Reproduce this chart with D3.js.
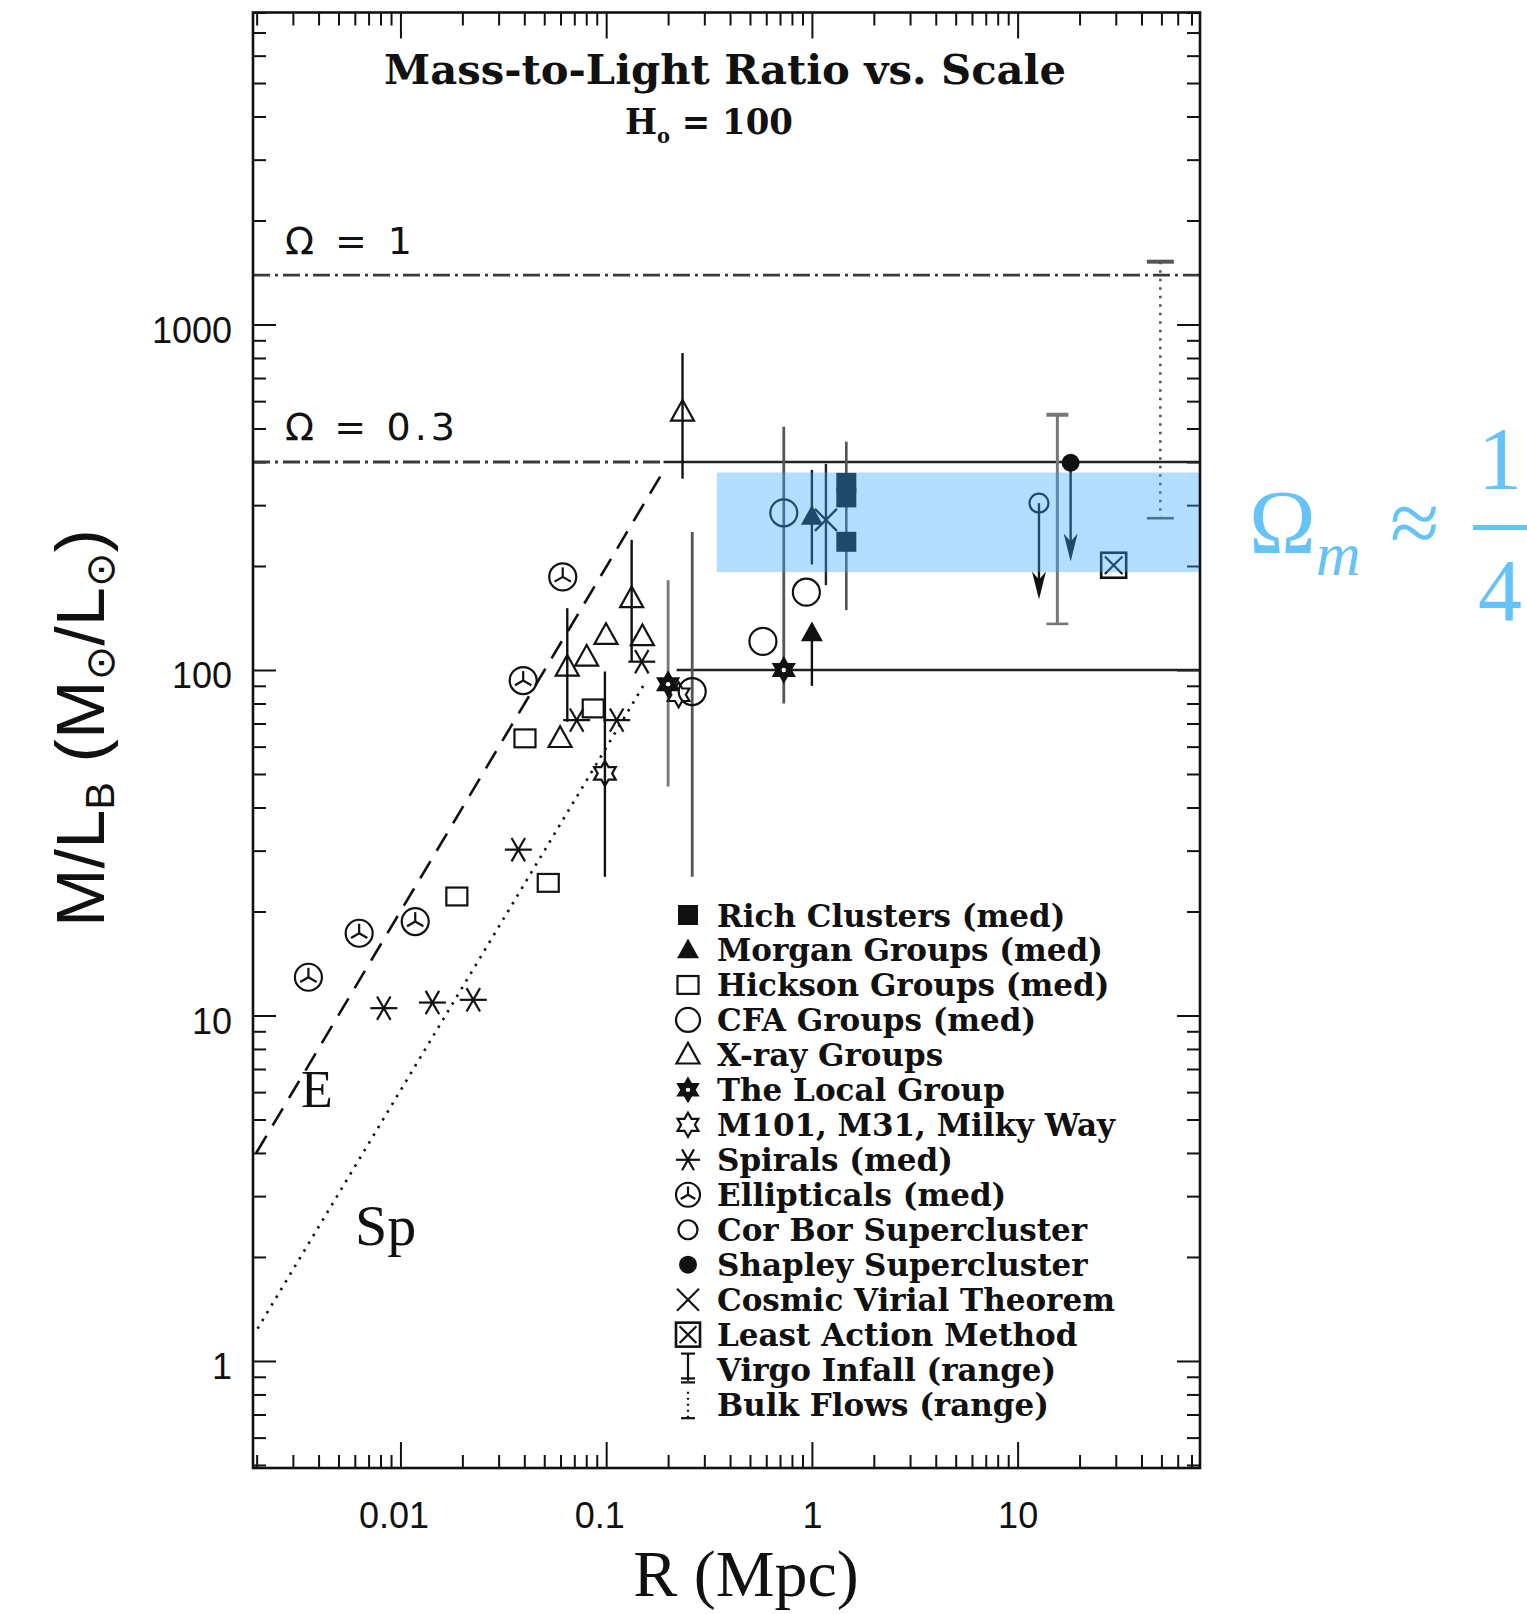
<!DOCTYPE html>
<html lang="en">
<head>
<meta charset="UTF-8" />
<title>Mass-to-Light Ratio vs. Scale</title>
<style>
  body { margin: 0; background: #fff; }
  svg { display: block; }
</style>
</head>
<body>
<svg id="svg" width="1527" height="1614"></svg>
<script src="https://d3js.org/d3.v7.min.js"></script>
<script>
// R in Mpc, ml = M/L_B in solar units, lo/hi = range of the error bar
const richClusters = [
  { r: 1.47, ml: 348, lo: 149, hi: 458 },
  { r: 1.47, ml: 316 },
  { r: 1.47, ml: 235 }
];
const morganGroups = [
  { r: 1.0, ml: 278, lo: 202, hi: 379 },
  { r: 1.0, ml: 128, lo: 90, hi: 128 }
];
const hicksonGroups = [
  { r: 0.0188, ml: 22.1 },
  { r: 0.0403, ml: 63.4 },
  { r: 0.0523, ml: 24.2 },
  { r: 0.0865, ml: 77.4 }
];
const cfaGroups = [
  { r: 0.262, ml: 86.6, lo: 25.2, hi: 251 },
  { r: 0.578, ml: 121 },
  { r: 0.73, ml: 285, lo: 80, hi: 506 },
  { r: 0.94, ml: 168 }
];
const xrayGroups = [
  { r: 0.0597, ml: 63.4 },
  { r: 0.0647, ml: 102, lo: 70.8, hi: 151 },
  { r: 0.0804, ml: 109 },
  { r: 0.0998, ml: 126 },
  { r: 0.133, ml: 161, lo: 106, hi: 238 },
  { r: 0.150, ml: 125 },
  { r: 0.235, ml: 558, lo: 358, hi: 827 }
];
const localGroup = [
  { r: 0.2, ml: 91, lo: 46, hi: 182 },
  { r: 0.73, ml: 100 }
];
const galaxiesM101 = [
  { r: 0.0986, ml: 50.2, lo: 25.2, hi: 99 },
  { r: 0.225, ml: 84.8 }
];
const spirals = [
  { r: 0.0083, ml: 10.5 },
  { r: 0.0143, ml: 10.9 },
  { r: 0.0226, ml: 11.1 },
  { r: 0.0374, ml: 30.2 },
  { r: 0.0719, ml: 71.6 },
  { r: 0.1125, ml: 71.6 },
  { r: 0.149, ml: 105.7 }
];
const ellipticals = [
  { r: 0.00357, ml: 12.9 },
  { r: 0.0063, ml: 17.3 },
  { r: 0.0118, ml: 18.7 },
  { r: 0.0395, ml: 93.2 },
  { r: 0.0615, ml: 186 }
];
const corBor = [{ r: 12.7, ml: 304, arrowTo: 160 }];
const shapley = [{ r: 18.1, ml: 398, arrowTo: 206 }];
const cosmicVirial = [{ r: 1.17, ml: 272, lo: 176, hi: 395 }];
const leastAction = [{ r: 29.3, ml: 201 }];
const virgoInfall = [{ r: 15.6, lo: 136, hi: 548 }];
const bulkFlows = [{ r: 49.4, lo: 275, hi: 1520 }];

// reference levels and trends
const omegaLevels = [
  { label: "Ω = 1", ml: 1390, dashTo: 77 },
  { label: "Ω = 0.3", ml: 400, dashTo: 0.19 }
];
const solidLevels = [
  { ml: 400, from: 0.19 },
  { ml: 100, from: 0.22 }
];
const ellipticalTrend = [[0.00199, 4.0], [0.183, 363]];
const spiralTrend = [[0.00202, 1.24], [0.155, 92]];
const bandR = [0.345, 77];
const bandML = [192, 373];

const majorX = [0.01, 0.1, 1, 10];
const majorY = [1, 10, 100, 1000];

const legendLabels = [
  "Rich Clusters (med)", "Morgan Groups (med)", "Hickson Groups (med)",
  "CFA Groups (med)", "X-ray Groups", "The Local Group", "M101, M31, Milky Way",
  "Spirals (med)", "Ellipticals (med)", "Cor Bor Supercluster",
  "Shapley Supercluster", "Cosmic Virial Theorem", "Least Action Method",
  "Virgo Infall (range)", "Bulk Flows (range)"
];
const legendSyms = [
  "fsquare", "ftriangle", "osquare", "ocircle", "otriangle", "fstar", "ostar",
  "asterisk", "ellip", "scircle", "fcircle", "xcross", "boxx", "ibeam", "dotbeam"
];

const ink = "#111";
const svg = d3.select("#svg");

const x = d3.scaleLog().domain([0.00192, 77]).range([253, 1200]);
const y = d3.scaleLog().domain([0.49, 8000]).range([1468, 12.5]);
const [xl, xr] = x.range();
const [yb, yt] = y.range();

// ---- symbols ----
const symSize = {
  fsquare: 20, ftriangle: 22, osquare: 21, ocircle: 27, otriangle: 23,
  fstar: 25, ostar: 25, asterisk: 27, ellip: 27, scircle: 19, fcircle: 18,
  xcross: 22, boxx: 25, ibeam: 32, dotbeam: 32
};

function hexagram(R) {
  const pts = [];
  for (let k = 0; k < 12; k++) {
    const a = -Math.PI / 2 + k * Math.PI / 6;
    const rr = k % 2 === 0 ? R : R / Math.sqrt(3);
    pts.push([rr * Math.cos(a), rr * Math.sin(a)]);
  }
  return "M" + pts.map(p => p.join(",")).join("L") + "Z";
}

function drawSymbol(g, type, s) {
  const h = s / 2;
  const sw = 2.2;
  const line = (x1, y1, x2, y2) => g.append("line")
    .attr("x1", x1).attr("y1", y1).attr("x2", x2).attr("y2", y2)
    .attr("stroke", ink).attr("stroke-width", sw);
  const tri = `M0,${-h * 1.05}L${h},${h * 0.75}L${-h},${h * 0.75}Z`;
  switch (type) {
    case "fsquare":
      g.append("rect").attr("x", -h).attr("y", -h).attr("width", s).attr("height", s).attr("fill", ink);
      break;
    case "osquare":
      g.append("rect").attr("x", -h).attr("y", -h * 0.85).attr("width", s).attr("height", s * 0.85)
        .attr("fill", "none").attr("stroke", ink).attr("stroke-width", sw);
      break;
    case "ftriangle":
      g.append("path").attr("d", tri).attr("fill", ink);
      break;
    case "otriangle":
      g.append("path").attr("d", tri).attr("fill", "none").attr("stroke", ink).attr("stroke-width", sw);
      break;
    case "ocircle":
    case "scircle":
      g.append("circle").attr("r", h).attr("fill", "none").attr("stroke", ink).attr("stroke-width", sw);
      break;
    case "fcircle":
      g.append("circle").attr("r", h).attr("fill", ink);
      break;
    case "fstar":
      g.append("path").attr("d", hexagram(h)).attr("fill", ink).attr("stroke", ink).attr("stroke-width", 1.5);
      g.append("circle").attr("r", 2.2).attr("fill", "#fff");
      break;
    case "ostar":
      g.append("path").attr("d", hexagram(h)).attr("fill", "none").attr("stroke", ink).attr("stroke-width", sw);
      break;
    case "asterisk":
      for (let k = 0; k < 3; k++) {
        const a = k * Math.PI / 3;
        line(-h * Math.cos(a), -h * Math.sin(a), h * Math.cos(a), h * Math.sin(a));
      }
      break;
    case "ellip":
      g.append("circle").attr("r", h).attr("fill", "none").attr("stroke", ink).attr("stroke-width", sw);
      [-90, 30, 150].forEach(deg => {
        const a = deg * Math.PI / 180;
        line(0, 0, h * 0.7 * Math.cos(a), h * 0.7 * Math.sin(a));
      });
      break;
    case "xcross":
      line(-h, -h, h, h);
      line(-h, h, h, -h);
      break;
    case "boxx":
      g.append("rect").attr("x", -h).attr("y", -h).attr("width", s).attr("height", s)
        .attr("fill", "none").attr("stroke", ink).attr("stroke-width", 2.6);
      line(-h * 0.7, -h * 0.7, h * 0.7, h * 0.7);
      line(-h * 0.7, h * 0.7, h * 0.7, -h * 0.7);
      break;
    case "ibeam":
      line(0, -h, 0, h * 0.7);
      line(-7, -h, 7, -h);
      line(-7, h * 0.55, 7, h * 0.55);
      line(-7, h * 0.8, 7, h * 0.8);
      break;
    case "dotbeam":
      line(0, -h * 0.8, 0, h * 0.8).attr("stroke-dasharray", "2,4");
      line(-7, h * 0.85, 7, h * 0.85);
      break;
  }
}

// ---- axes (all ticks point inward) ----
const axesG = svg.append("g");
function addAxis(axis, transform, labelled) {
  const g = axesG.append("g").attr("transform", transform).call(axis);
  g.select(".domain").remove();
  g.selectAll(".tick line").attr("stroke", ink).attr("stroke-width", 2);
  g.selectAll(".tick text")
    .attr("fill", ink)
    .attr("font-family", "'Liberation Sans', Arial, sans-serif")
    .attr("font-size", 36);
  if (!labelled) g.selectAll(".tick text").remove();
  return g;
}
const isMajor = (list) => (v) => list.some(m => Math.abs(v - m) / m < 1e-6);
const minorX = x.ticks().filter(v => !isMajor(majorX)(v));
const minorY = y.ticks().filter(v => !isMajor(majorY)(v));
const fmt = d3.format("~g");

addAxis(d3.axisBottom(x).tickValues(majorX).tickSizeInner(-26).tickSizeOuter(0).tickPadding(34).tickFormat(fmt),
  `translate(0,${yb})`, true).selectAll(".tick text").attr("dx", d => d < 1 ? -7 : 0);
addAxis(d3.axisBottom(x).tickValues(minorX).tickSizeInner(-13).tickSizeOuter(0), `translate(0,${yb})`, false);
addAxis(d3.axisTop(x).tickValues(majorX).tickSizeInner(-26).tickSizeOuter(0), `translate(0,${yt})`, false);
addAxis(d3.axisTop(x).tickValues(minorX).tickSizeInner(-13).tickSizeOuter(0), `translate(0,${yt})`, false);

addAxis(d3.axisLeft(y).tickValues(majorY).tickSizeInner(-23).tickSizeOuter(0).tickPadding(21).tickFormat(fmt),
  `translate(${xl},0)`, true).selectAll(".tick text").attr("dy", "0.5em");
addAxis(d3.axisLeft(y).tickValues(minorY).tickSizeInner(-13).tickSizeOuter(0), `translate(${xl},0)`, false);
addAxis(d3.axisRight(y).tickValues(majorY).tickSizeInner(-23).tickSizeOuter(0), `translate(${xr},0)`, false);
addAxis(d3.axisRight(y).tickValues(minorY).tickSizeInner(-13).tickSizeOuter(0), `translate(${xr},0)`, false);

// ---- reference lines ----
const lines = svg.append("g").attr("fill", "none");
omegaLevels.forEach(d => {
  lines.append("line")
    .attr("x1", xl).attr("x2", x(d.dashTo))
    .attr("y1", y(d.ml)).attr("y2", y(d.ml))
    .attr("stroke", "#3a3a3a").attr("stroke-width", 2.8)
    .attr("stroke-dasharray", "17,5,3,5");
});
solidLevels.forEach(d => {
  lines.append("line")
    .attr("x1", x(d.from)).attr("x2", xr)
    .attr("y1", y(d.ml)).attr("y2", y(d.ml))
    .attr("stroke", "#222").attr("stroke-width", 2.6);
});
const trend = d3.line().x(d => x(d[0])).y(d => y(d[1]));
lines.append("path").attr("d", trend(ellipticalTrend))
  .attr("stroke", ink).attr("stroke-width", 2.6).attr("stroke-dasharray", "20,12");
lines.append("path").attr("d", trend(spiralTrend))
  .attr("stroke", ink).attr("stroke-width", 2.6).attr("stroke-dasharray", "2.5,6.5");

// ---- data marks ----
const marks = svg.append("g");
function drawErrors(data, color, width) {
  marks.append("g").selectAll("line").data(data.filter(d => d.lo != null)).join("line")
    .attr("x1", d => x(d.r)).attr("x2", d => x(d.r))
    .attr("y1", d => y(d.hi)).attr("y2", d => y(d.lo))
    .attr("stroke", color).attr("stroke-width", width);
}
function drawMarkers(data, sym) {
  marks.append("g").selectAll("g").data(data).join("g")
    .attr("transform", d => `translate(${x(d.r)},${y(d.ml)})`)
    .each(function () { drawSymbol(d3.select(this), sym, symSize[sym]); });
}
function drawArrows(data) {
  data.forEach(d => {
    const px = x(d.r), y0 = y(d.ml), y1 = y(d.arrowTo);
    marks.append("line").attr("x1", px).attr("x2", px).attr("y1", y0).attr("y2", y1 - 6)
      .attr("stroke", ink).attr("stroke-width", 2.4);
    marks.append("path")
      .attr("d", `M${px - 7},${y1 - 28}L${px},${y1}L${px + 7},${y1 - 28}L${px},${y1 - 20}Z`)
      .attr("fill", ink);
  });
}
function drawRanges(data, color, dash, capW, width) {
  data.forEach(d => {
    const px = x(d.r);
    marks.append("line").attr("x1", px).attr("x2", px).attr("y1", y(d.hi)).attr("y2", y(d.lo))
      .attr("stroke", color).attr("stroke-width", width).attr("stroke-dasharray", dash);
    [d.hi, d.lo].forEach(v => {
      marks.append("line").attr("x1", px - capW / 2).attr("x2", px + capW / 2)
        .attr("y1", y(v)).attr("y2", y(v))
        .attr("stroke", color).attr("stroke-width", v === d.hi ? 4 : 2.6);
    });
  });
}

drawErrors(richClusters, "#555", 2.6);
drawErrors(morganGroups, ink, 2.4);
drawErrors(cfaGroups, "#555", 2.8);
drawErrors(xrayGroups, ink, 2.4);
drawErrors(localGroup, "#777", 2.8);
drawErrors(galaxiesM101, ink, 2.4);
drawErrors(cosmicVirial, "#222", 2.4);
drawRanges(virgoInfall, "#777", null, 22, 3);
drawRanges(bulkFlows, "#555", "2.5,6", 27, 2.6);

drawMarkers(ellipticals, "ellip");
drawMarkers(spirals, "asterisk");
drawMarkers(hicksonGroups, "osquare");
drawMarkers(xrayGroups, "otriangle");
drawMarkers(galaxiesM101, "ostar");
drawMarkers(localGroup, "fstar");
drawMarkers(cfaGroups, "ocircle");
drawMarkers(morganGroups, "ftriangle");
drawMarkers(richClusters, "fsquare");
drawMarkers(cosmicVirial, "xcross");
drawMarkers(corBor, "scircle");
drawMarkers(shapley, "fcircle");
drawMarkers(leastAction, "boxx");
drawArrows(corBor);
drawArrows(shapley);

// ---- highlighted band ----
svg.append("rect")
  .attr("x", x(bandR[0])).attr("y", y(bandML[1]))
  .attr("width", x(bandR[1]) - x(bandR[0]) - 1)
  .attr("height", y(bandML[0]) - y(bandML[1]))
  .attr("fill", "#38a8fa").attr("fill-opacity", 0.38);

// ---- frame ----
svg.append("rect")
  .attr("x", xl).attr("y", yt).attr("width", xr - xl).attr("height", yb - yt)
  .attr("fill", "none").attr("stroke", ink).attr("stroke-width", 2.6);

// ---- texts ----
const serifBold = "'DejaVu Serif', serif";
svg.append("text")
  .attr("x", 725).attr("y", 84).attr("text-anchor", "middle")
  .attr("font-family", serifBold).attr("font-weight", "bold").attr("font-size", 41)
  .attr("textLength", 682).attr("lengthAdjust", "spacingAndGlyphs")
  .attr("fill", ink)
  .text("Mass-to-Light Ratio vs. Scale");

const h0 = svg.append("text")
  .attr("x", 709).attr("y", 134).attr("text-anchor", "middle")
  .attr("font-family", serifBold).attr("font-weight", "bold").attr("font-size", 35)
  .attr("textLength", 168).attr("lengthAdjust", "spacingAndGlyphs")
  .attr("fill", ink);
h0.append("tspan").text("H");
h0.append("tspan").attr("font-size", 20).attr("dy", 9).text("o");
h0.append("tspan").attr("dy", -9).text(" = 100");

omegaLevels.forEach((d, i) => {
  svg.append("text")
    .attr("x", 285).attr("y", i === 0 ? 254 : 440)
    .attr("font-family", "'DejaVu Sans', sans-serif").attr("font-size", 38)
    .attr("textLength", i === 0 ? 127 : 170).attr("lengthAdjust", "spacing")
    .attr("fill", ink)
    .text(d.label);
});

svg.append("text").attr("x", 301).attr("y", 1107)
  .attr("font-family", "'Liberation Serif', serif").attr("font-size", 52).attr("fill", ink).text("E");
svg.append("text").attr("x", 355).attr("y", 1245)
  .attr("font-family", "'Liberation Serif', serif").attr("font-size", 58).attr("fill", ink).text("Sp");

// axis titles
svg.append("text")
  .attr("x", 746).attr("y", 1596).attr("text-anchor", "middle")
  .attr("font-family", "'Liberation Serif', serif").attr("font-size", 66).attr("fill", ink)
  .text("R (Mpc)");

const yl = svg.append("text")
  .attr("transform", "translate(104,728) rotate(-90)").attr("text-anchor", "middle")
  .attr("font-family", "'Liberation Sans', 'DejaVu Sans', sans-serif").attr("font-size", 68)
  .attr("textLength", 398).attr("lengthAdjust", "spacingAndGlyphs")
  .attr("fill", ink);
yl.append("tspan").text("M/L");
yl.append("tspan").attr("font-size", 40).attr("dy", 10).text("B");
yl.append("tspan").attr("dy", -10).text(" (M");
yl.append("tspan").attr("font-size", 40).attr("dy", 10).text("⊙");
yl.append("tspan").attr("dy", -10).text("/L");
yl.append("tspan").attr("font-size", 40).attr("dy", 10).text("⊙");
yl.append("tspan").attr("dy", -10).text(")");

// ---- legend ----
const legend = svg.append("g");
const legY0 = 915, legStep = 34.97;
legendLabels.forEach((label, i) => {
  const ry = legY0 + i * legStep;
  const sym = legendSyms[i];
  const s = Math.min(symSize[sym], sym === "ibeam" || sym === "dotbeam" ? 32 : 24);
  drawSymbol(legend.append("g").attr("transform", `translate(688,${ry})`), sym, s);
  legend.append("text")
    .attr("x", 717).attr("y", ry + 11.5)
    .attr("font-family", serifBold).attr("font-weight", "bold").attr("font-size", 31)
    .attr("fill", ink)
    .text(label);
});

// ---- annotation ----
const note = svg.append("g").attr("fill", "#66c3f8").attr("font-family", "'Liberation Serif', serif");
note.append("text").attr("x", 1249).attr("y", 553).attr("font-size", 90).text("Ω");
note.append("text").attr("x", 1316).attr("y", 575).attr("font-size", 62).attr("font-style", "italic").text("m");
note.append("text").attr("x", 1390).attr("y", 553).attr("font-size", 90).text("≈");
note.append("rect").attr("x", 1473).attr("y", 525).attr("width", 80).attr("height", 5);
note.append("text").attr("x", 1500).attr("y", 488).attr("text-anchor", "middle").attr("font-size", 88).text("1");
note.append("text").attr("x", 1500).attr("y", 620).attr("text-anchor", "middle").attr("font-size", 88).text("4");
</script>
</body>
</html>
